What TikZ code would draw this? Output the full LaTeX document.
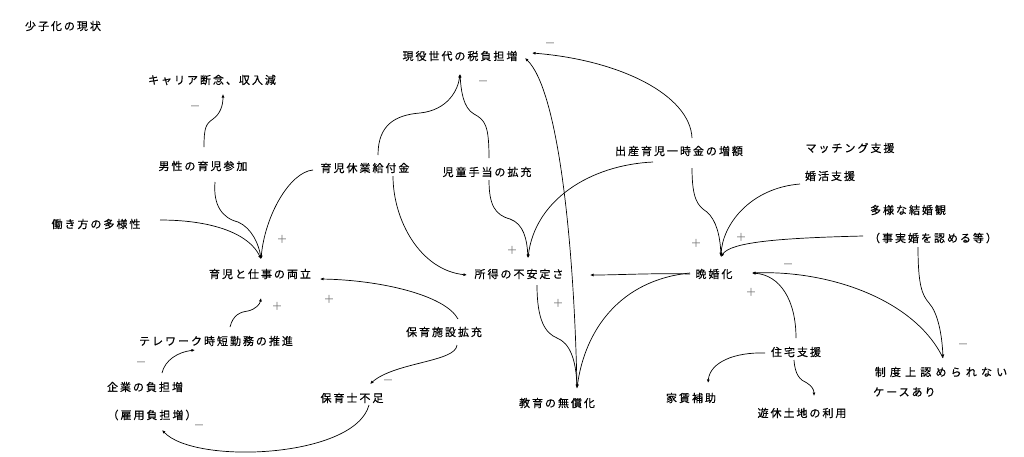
\documentclass[tikz,border=0pt]{standalone}
\usepackage{fontspec}
\newfontfamily\jp[LetterSpace=18,FakeBold=0.4]{Noto Sans CJK JP}
\newfontfamily\jpwide[LetterSpace=38,FakeBold=0.4]{Noto Sans CJK JP}
\newfontfamily\jpsign{Noto Sans CJK JP}
\usetikzlibrary{arrows.meta,calc}
\definecolor{signgray}{RGB}{120,120,120}
\begin{document}
\begin{tikzpicture}[x=1pt,y=-1pt,
  lbl/.style={font=\jp\fontsize{11}{13}\selectfont, inner sep=0pt},
  lblw/.style={font=\jpwide\fontsize{11}{13}\selectfont, inner sep=0pt},
  sgn/.style={font=\jpsign\fontsize{11}{13}\selectfont, text=signgray, inner sep=0pt},
  link/.style={draw, line width=0.7pt, -{Latex[length=3.5pt,width=3pt]}}]
\fill[white] (0,0) rectangle (1024,456);
\useasboundingbox (0,0) rectangle (1024,456);

% nodes
\node[lbl] (title) at (63,26) {少子化の現状};
\node[lbl] (career) at (212,80) {キャリア断念、収入減};
\node[lbl] (dansei) at (203,166) {男性の育児参加};
\node[lbl] (kyugyo) at (365,168) {育児休業給付金};
\node[lbl] (jido) at (487,172) {児童手当の拡充};
\node[lbl] (hataraki) at (96,224) {働き方の多様性};
\node[lbl] (ryoritsu) at (260,274) {育児と仕事の両立};
\node[lbl] (telework) at (216,341) {テレワーク時短勤務の推進};
\node[lbl] (kigyo) at (145,387) {企業の負担増};
\node[lbl] (koyo) at (152,415) {（雇用負担増）};
\node[lbl] (shisetsu) at (444,332) {保育施設拡充};
\node[lbl] (hoikushi) at (352,398) {保育士不足};
\node[lbl] (genyaku) at (460,56) {現役世代の税負担増};
\node[lbl] (shotoku) at (519,274) {所得の不安定さ};
\node[lbl] (kyoiku) at (557,403) {教育の無償化};
\node[lbl] (shussan) at (679,151) {出産育児一時金の増額};
\node[lbl] (matching) at (850,148) {マッチング支援};
\node[lbl] (konkatsu) at (830,176) {婚活支援};
\node[lbl] (tayo) at (908,210) {多様な結婚観};
\node[lbl] (jijitsu) at (933,238) {（事実婚を認める等）};
\node[lbl] (bankon) at (714,274) {晩婚化};
\node[lbl] (jutaku) at (796,352) {住宅支援};
\node[lbl] (yachin) at (691,398) {家賃補助};
\node[lbl] (yukyu) at (802,413) {遊休土地の利用};
\node[lblw] (seido) at (941,372) {制度上認められない};
\node[lbl, anchor=west] (keesu) at (873,392) {ケースあり};

% connectors
\draw[link] ($(dansei)+(1,-19)$) .. controls (204,127) and (206,124) .. (213,119) .. controls (220,114) and (223,106) .. ($(career)+(11,14)$);
\draw[link] ($(dansei)+(12,16)$) .. controls (213,205) and (222,218) .. (238,222) .. controls (252,228) and (259,245) .. ($(ryoritsu)+(1,-15)$);
\draw[link] ($(hataraki)+(64,-4)$) .. controls (215,220) and (250,235) .. ($(ryoritsu)+(1,-15)$);
\draw[link] ($(kyugyo)+(-52,2)$) .. controls (290,172) and (265,215) .. ($(ryoritsu)+(1,-15)$);
\draw[link] ($(kyugyo)+(28,8)$) .. controls (393,220) and (420,270) .. ($(shotoku)+(-52,1)$);
\draw[link] ($(kyugyo)+(13,-13)$) .. controls (378,125) and (395,115) .. (420,113) .. controls (448,110) and (458,90) .. ($(genyaku)+(0,18)$);
\draw[link] ($(jido)+(2,-14)$) .. controls (489,125) and (485,120) .. (474,114) .. controls (463,108) and (461,90) .. ($(genyaku)+(0,18)$);
\draw[link] ($(jido)+(2,8)$) .. controls (489,205) and (495,215) .. (510,219) .. controls (524,224) and (527,240) .. ($(shotoku)+(9,-16)$);
\draw[link] ($(shussan)+(-26,11)$) .. controls (590,165) and (535,200) .. ($(shotoku)+(9,-16)$);
\draw[link] ($(shussan)+(13,-13)$) .. controls (690,95) and (620,60) .. ($(genyaku)+(72,-3)$);
\draw[link] ($(shussan)+(13,17)$) .. controls (692,200) and (698,206) .. (707,212) .. controls (716,220) and (720,235) .. ($(bankon)+(7,-18)$);
\draw[link] ($(konkatsu)+(-30,8)$) .. controls (750,188) and (722,225) .. ($(bankon)+(7,-17)$);
\draw[link] ($(jijitsu)+(-70,-2)$) .. controls (780,238) and (730,242) .. ($(bankon)+(7,-17)$);
\draw[link] ($(bankon)+(-24,0)$) .. controls (650,273) and (620,275) .. ($(shotoku)+(71,1)$);
\draw[link] ($(bankon)+(-24,-1)$) .. controls (620,280) and (585,330) .. ($(kyoiku)+(20,-15)$);
\draw[link] ($(shotoku)+(18,11)$) .. controls (537,320) and (545,333) .. (557,338) .. controls (570,343) and (576,360) .. ($(kyoiku)+(20,-15)$);
\draw[link] ($(kyoiku)+(20,-15)$) .. controls (574,240) and (558,90) .. ($(genyaku)+(65,2)$);
\draw[link] ($(shisetsu)+(14,-13)$) .. controls (445,295) and (380,280) .. ($(ryoritsu)+(60,5)$);
\draw[link] ($(telework)+(14,-14)$) .. controls (233,315) and (240,312) .. (248,311) .. controls (256,309) and (260,304) .. ($(ryoritsu)+(1,24)$);
\draw[link] ($(kigyo)+(17,-14)$) .. controls (165,360) and (178,352) .. ($(telework)+(-21,9)$);
\draw[link] ($(shisetsu)+(13,13)$) .. controls (456,362) and (395,362) .. ($(hoikushi)+(18,-14)$);
\draw[link] ($(hoikushi)+(17,7)$) .. controls (355,458) and (195,465) .. ($(koyo)+(10,15)$);
\draw[link] ($(jutaku)+(0,-14)$) .. controls (796,300) and (780,275) .. ($(bankon)+(38,-1)$);
\draw[link] ($(seido)+(2,-14)$) .. controls (915,300) and (830,270) .. ($(bankon)+(38,-1)$);
\draw[link] ($(jijitsu)+(-15,9)$) .. controls (918,285) and (922,295) .. (929,303) .. controls (938,313) and (942,335) .. ($(seido)+(2,-14)$);
\draw[link] ($(jutaku)+(-31,1)$) .. controls (735,352) and (710,362) .. ($(yachin)+(17,-15)$);
\draw[link] ($(jutaku)+(-2,8)$) .. controls (795,375) and (800,380) .. (807,383) .. controls (812,386) and (814,390) .. ($(yukyu)+(12,-17)$);

% signs
\node[sgn] (s1) at (195,108) {－};
\node[sgn] (s2) at (282,239) {＋};
\node[sgn] (s3) at (277,306) {＋};
\node[sgn] (s4) at (329,299) {＋};
\node[sgn] (s5) at (141,364) {－};
\node[sgn] (s6) at (388,382) {－};
\node[sgn] (s7) at (199,427) {－};
\node[sgn] (s8) at (483,83) {－};
\node[sgn] (s9) at (550,45) {－};
\node[sgn] (s10) at (512,250) {＋};
\node[sgn] (s11) at (558,303) {＋};
\node[sgn] (s12) at (696,243) {＋};
\node[sgn] (s13) at (741,237) {＋};
\node[sgn] (s14) at (788,266) {－};
\node[sgn] (s15) at (751,292) {＋};
\node[sgn] (s16) at (963,346) {－};
\end{tikzpicture}
\end{document}
